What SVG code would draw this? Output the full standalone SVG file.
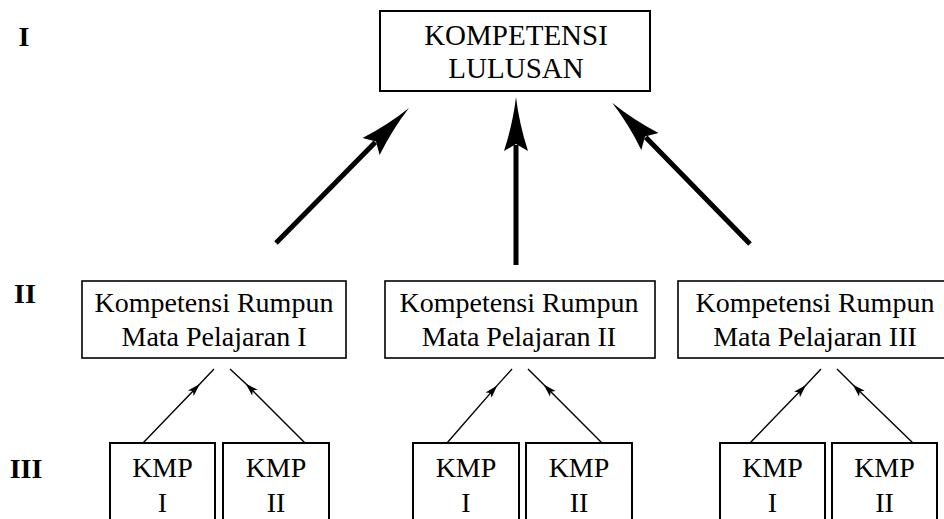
<svg xmlns="http://www.w3.org/2000/svg" width="944" height="519" viewBox="0 0 944 519">
<defs>
<style>
.bx{fill:#fff;stroke:#000;stroke-width:2}
.t{font-family:"Liberation Serif","Times New Roman",serif;font-size:28px;fill:#000;text-anchor:middle}
.lv{font-family:"Liberation Serif","Times New Roman",serif;font-size:28px;font-weight:bold;fill:#000;text-anchor:middle}
.thick{stroke:#000;stroke-width:5;fill:none}
.thin{stroke:#000;stroke-width:1.4;fill:none}
</style>
<marker id="bigHead" markerUnits="userSpaceOnUse" viewBox="-10 -15 65 30" markerWidth="65" markerHeight="30" refX="0" refY="0" orient="auto" overflow="visible">
<path d="M48 0 Q22 3 -6 12 L1 0 L-6 -12 Q22 -3 48 0 Z" fill="#000"/>
</marker>
<marker id="smallHead" markerUnits="userSpaceOnUse" viewBox="-14 -6 16 12" markerWidth="16" markerHeight="12" refX="0" refY="0" orient="auto" overflow="visible">
<path d="M0 0 L-13 4 L-10 0 L-13 -4 Z" fill="#000"/>
</marker>
</defs>
<rect width="944" height="519" fill="#fff"/>

<g id="levels">
<text class="lv" x="24" y="46">I</text>
<text class="lv" x="25" y="303">II</text>
<text class="lv" x="26" y="478">III</text>
</g>

<g id="connectors">
<line class="thick" x1="276" y1="243" x2="375.3" y2="142.2" marker-end="url(#bigHead)"/>
<line class="thick" x1="516" y1="265" x2="516" y2="145" marker-end="url(#bigHead)"/>
<line class="thick" x1="750" y1="244" x2="645.7" y2="137.2" marker-end="url(#bigHead)"/>

<path class="thin" d="M143 443 L199.8 383.9 L214 369" marker-mid="url(#smallHead)"/>
<path class="thin" d="M305 443 L245.6 383.6 L230 369" marker-mid="url(#smallHead)"/>
<path class="thin" d="M447 443 L497.2 385.4 L512 369" marker-mid="url(#smallHead)"/>
<path class="thin" d="M602 443 L543.6 384.6 L528 369" marker-mid="url(#smallHead)"/>
<path class="thin" d="M750 443 L806 385 L821 369" marker-mid="url(#smallHead)"/>
<path class="thin" d="M913 443 L852.6 384.6 L837 369" marker-mid="url(#smallHead)"/>
</g>

<g id="kompetensi-lulusan">
<rect class="bx" x="380" y="11" width="270" height="80"/>
<text class="t" x="516" y="45" style="font-size:29px">KOMPETENSI</text>
<text class="t" x="516" y="78" style="font-size:29px">LULUSAN</text>
</g>

<g id="rumpun-1">
<rect class="bx" x="82" y="281" width="264" height="77" style="stroke-width:1.6"/>
<text class="t" x="214" y="312">Kompetensi Rumpun</text>
<text class="t" x="214" y="346">Mata Pelajaran I</text>
</g>
<g id="rumpun-2">
<rect class="bx" x="385" y="281" width="270" height="77" style="stroke-width:1.6"/>
<text class="t" x="519" y="312">Kompetensi Rumpun</text>
<text class="t" x="519" y="346">Mata Pelajaran II</text>
</g>
<g id="rumpun-3">
<rect class="bx" x="678" y="281" width="274" height="77" style="stroke-width:1.6"/>
<text class="t" x="815" y="312">Kompetensi Rumpun</text>
<text class="t" x="815" y="346">Mata Pelajaran III</text>
</g>

<g id="kmp-1-1"><rect class="bx" x="110" y="443" width="105" height="90"/><text class="t" x="162.5" y="477">KMP</text><text class="t" x="162.5" y="512">I</text></g>
<g id="kmp-1-2"><rect class="bx" x="223" y="443" width="106" height="90"/><text class="t" x="276" y="477">KMP</text><text class="t" x="276" y="512">II</text></g>
<g id="kmp-2-1"><rect class="bx" x="413" y="443" width="106" height="90"/><text class="t" x="466" y="477">KMP</text><text class="t" x="466" y="512">I</text></g>
<g id="kmp-2-2"><rect class="bx" x="526" y="443" width="106" height="90"/><text class="t" x="579" y="477">KMP</text><text class="t" x="579" y="512">II</text></g>
<g id="kmp-3-1"><rect class="bx" x="720" y="443" width="105" height="90"/><text class="t" x="772.5" y="477">KMP</text><text class="t" x="772.5" y="512">I</text></g>
<g id="kmp-3-2"><rect class="bx" x="832" y="443" width="105" height="90"/><text class="t" x="884.5" y="477">KMP</text><text class="t" x="884.5" y="512">II</text></g>
</svg>
